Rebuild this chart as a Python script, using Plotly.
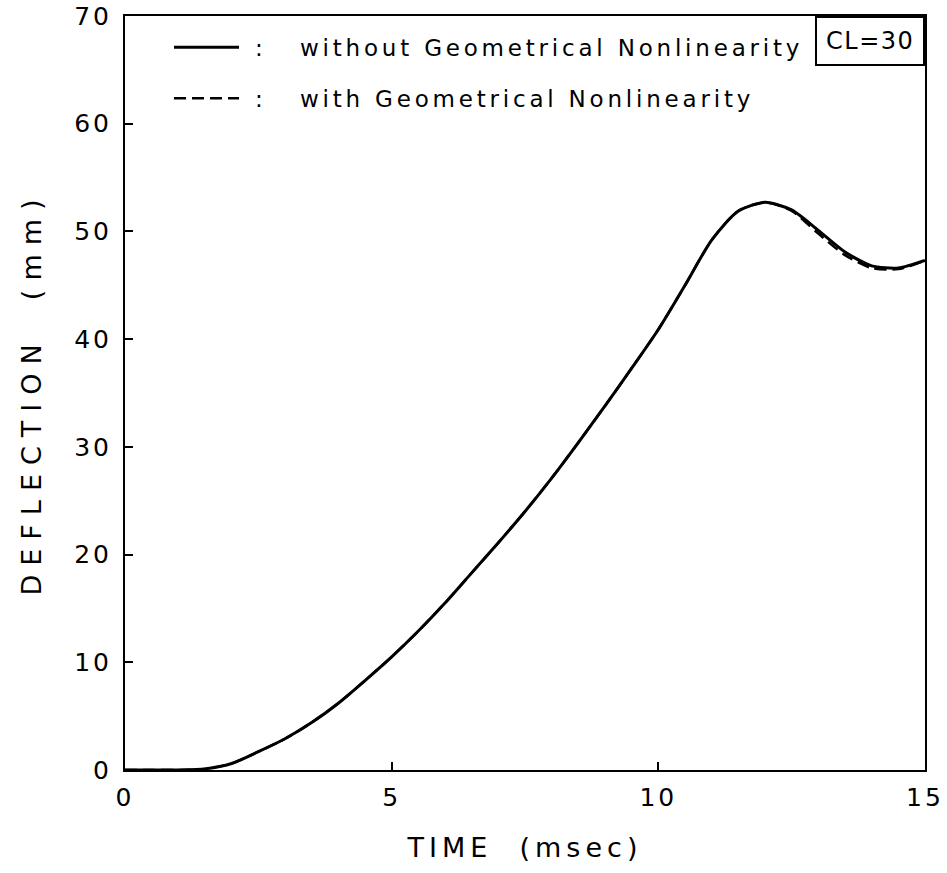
import plotly.graph_objects as go

# Time axis (msec) and mid-span deflection (mm)
time_ms = [0.0, 0.5, 1.0, 1.5, 2.0, 2.5, 3.0, 3.5, 4.0, 4.5, 5.0, 5.5, 6.0,
           6.5, 7.0, 7.5, 8.0, 8.5, 9.0, 9.5, 10.0, 10.5, 11.0, 11.5, 12.0,
           12.5, 13.0, 13.5, 14.0, 14.5, 15.0]
defl_linear = [0.0, 0.0, 0.0, 0.1, 0.6, 1.7, 2.9, 4.4, 6.2, 8.3, 10.5, 12.9,
               15.5, 18.3, 21.1, 24.0, 27.1, 30.4, 33.8, 37.3, 40.9, 45.0,
               49.2, 51.9, 52.7, 52.0, 50.1, 48.1, 46.8, 46.6, 47.3]
defl_nonlinear = [0.0, 0.0, 0.0, 0.1, 0.6, 1.7, 2.9, 4.4, 6.2, 8.3, 10.5, 12.9,
                  15.5, 18.3, 21.1, 24.0, 27.1, 30.4, 33.8, 37.3, 40.9, 45.0,
                  49.2, 51.9, 52.7, 51.9, 49.8, 47.8, 46.6, 46.5, 47.3]

x_ticks = [0, 5, 10, 15]
y_ticks = [0, 10, 20, 30, 40, 50, 60, 70]

FONT = "DejaVu Sans"
NB = "\u00a0"


def spaced(s, px):
    return f'<span style="letter-spacing:{px}px">{s}</span>'


fig = go.Figure()
fig.add_trace(go.Scatter(
    x=time_ms, y=defl_linear, mode="lines",
    line=dict(color="black", width=3, shape="spline", smoothing=0.7),
    name=spaced(NB + ":" + NB * 3 + "without Geometrical Nonlinearity", 3.8),
    legendgroup="a"))
fig.add_trace(go.Scatter(
    x=time_ms, y=defl_nonlinear, mode="lines",
    line=dict(color="black", width=2.5, dash="12px,6px",
              shape="spline", smoothing=0.7),
    name=spaced(NB + ":" + NB * 3 + "with Geometrical Nonlinearity", 3.8),
    legendgroup="b"))

axis_common = dict(
    showline=True, linecolor="black", linewidth=2, mirror=True,
    ticks="inside", ticklen=8, tickwidth=1.5, tickcolor="black",
    showgrid=False, zeroline=False, automargin=False,
    tickfont=dict(family=FONT, size=25, color="black"),
)

fig.update_xaxes(
    range=[0, 15], tickvals=x_ticks,
    ticktext=[spaced(str(v), 3) for v in x_ticks],
    title=dict(text=spaced("TIME" + NB * 2 + "(msec)", 5),
               font=dict(family=FONT, size=27, color="black"), standoff=27),
    ticklabelstandoff=4,
    **axis_common)
fig.update_yaxes(
    range=[0, 70], tickvals=y_ticks,
    ticktext=[spaced(str(v), 3) for v in y_ticks],
    title=dict(text=spaced("DEFLECTION" + NB * 2 + "(mm)", 9),
               font=dict(family=FONT, size=27, color="black"), standoff=25),
    ticklabelstandoff=6,
    **axis_common)

fig.add_annotation(
    x=1, y=1, xref="paper", yref="paper", xanchor="right", yanchor="top",
    text=spaced("CL=30", 1.5), showarrow=False,
    font=dict(family=FONT, size=24, color="black"),
    bordercolor="black", borderwidth=2, borderpad=9, bgcolor="white")

fig.update_layout(
    width=947, height=873,
    margin=dict(l=125, r=22, t=16, b=103),
    paper_bgcolor="white", plot_bgcolor="white",
    showlegend=True,
    legend=dict(x=0.055, y=0.987, xanchor="left", yanchor="top",
                bgcolor="rgba(0,0,0,0)", borderwidth=0,
                font=dict(family=FONT, size=23, color="black"),
                traceorder="grouped", tracegroupgap=18, itemwidth=65),
)

fig.write_html("out.html")
